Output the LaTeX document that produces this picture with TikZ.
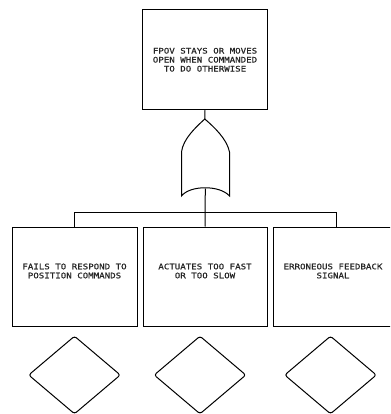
\documentclass[tikz,border=0pt]{standalone}
\usepackage{fontspec}
\usetikzlibrary{shapes.geometric}
% wide sans mono face, close to a pen-plotter lettering
\newfontfamily\plotfont[FakeStretch=1.2,FakeBold=0.6]{DejaVu Sans Mono}
\begin{document}
\begin{tikzpicture}[x=1pt,y=-1pt, line width=1pt,
  event/.style={draw, rectangle, inner sep=0pt, minimum width=125pt, minimum height=99pt},
  eventtext/.style={align=center, inner sep=0pt, text=black!85, font=\plotfont\fontsize{7.6pt}{9pt}\selectfont},
  basic/.style={draw, diamond, inner sep=0pt, minimum width=92pt, minimum height=78pt, rounded corners=2.5pt}]
\useasboundingbox (0,0) rectangle (390,414);
\clip (0,0) rectangle (390,414);

% top event
\node[event, minimum height=100pt] (top) at (205,59.75) {};
\node[eventtext] (toptext) at (top.center)
  {FPOV STAYS OR MOVES\\OPEN WHEN COMMANDED\\TO DO OTHERWISE};

% OR gate
\coordinate (gtip) at (204.8,119);
\coordinate (gout) at (205.3,188.5);
\draw (gtip) .. controls (214,127) and (227,139) .. (229.5,152)
  -- (229.5,196) .. controls (220,185) and (190,185) .. (181.5,196)
  -- (181.5,152) .. controls (183,139) and (196,127) .. (gtip) -- cycle;
\draw (top.south) -- (gtip);

% intermediate events
\node[event] (e1) at (74.5,276.5) {};
\node[event, minimum width=124pt] (e2) at (205,276.5) {};
\node[event] (e3) at (336,276.5) {};
\node[eventtext] (e1text) at ([yshift=5.5pt]e1.center) {FAILS TO RESPOND TO\\POSITION COMMANDS};
\node[eventtext] (e2text) at ([yshift=5.5pt]e2.center) {ACTUATES TOO FAST\\OR TOO SLOW};
\node[eventtext] (e3text) at ([yshift=5.5pt,xshift=-3pt]e3.center) {ERRONEOUS FEEDBACK\\SIGNAL};

% gate output bus
\coordinate (bus) at (205,212.5);
\draw (gout) -- (e2.north);
\draw (e1.north) -- (e1.north |- bus) -- (e3.north |- bus) -- (e3.north);

% undeveloped events
\node[basic] (d1) at (74.5,375) {};
\node[basic] (d2) at (200,375) {};
\node[basic] (d3) at (330.5,375) {};
\end{tikzpicture}
\end{document}
